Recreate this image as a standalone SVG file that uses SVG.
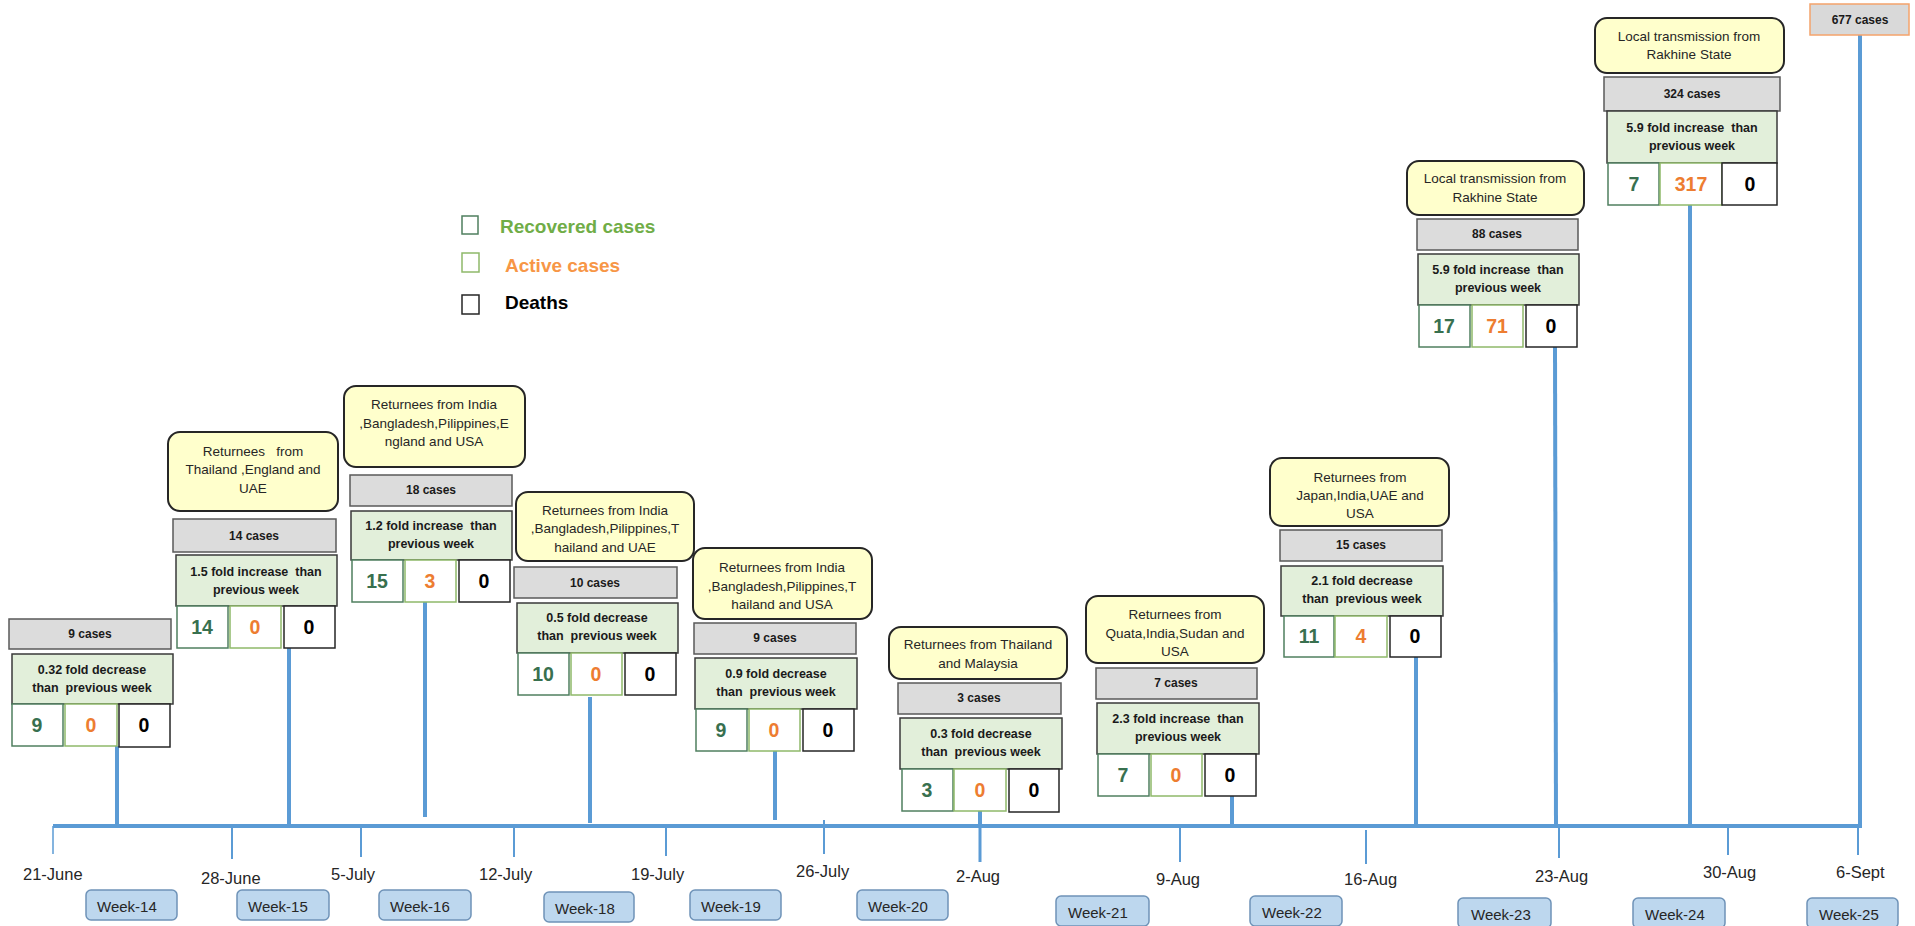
<svg xmlns="http://www.w3.org/2000/svg" width="1915" height="926" viewBox="0 0 1915 926" xml:space="preserve">
<style>
text{font-family:"Liberation Sans",Arial,sans-serif;white-space:pre}
.y{fill:#ffffcc;stroke:#262626;stroke-width:2}
.g{fill:#dcdcdc;stroke:#5a5a5a;stroke-width:1.5}
.gr{fill:#e2efda;stroke:#3a3a3a;stroke-width:1.5}
.cr{fill:#fff;stroke:#4f7f5f;stroke-width:1.5}
.ca{fill:#fff;stroke:#8fb96a;stroke-width:1.5}
.cd{fill:#fff;stroke:#262626;stroke-width:1.5}
.wk{fill:#bdd7ee;stroke:#6f93b8;stroke-width:1.5}
.ty{font-size:13.5px;fill:#262626;text-anchor:middle}
.tg{font-size:12px;font-weight:bold;fill:#1a1a1a;text-anchor:middle}
.tgr{font-size:12.5px;font-weight:bold;fill:#1a1a1a;text-anchor:middle}
.n{font-size:19.5px;font-weight:bold;text-anchor:middle}
.nr{fill:#38704f}.na{fill:#ed7d31}.nd{fill:#000}
.dt{font-size:16.5px;fill:#262626}
.wt{font-size:15px;fill:#262626}
.lg{font-size:19px;font-weight:bold}
.stem{stroke:#5b9bd5;stroke-width:4;fill:none}
.tick{stroke:#5b9bd5;stroke-width:2;fill:none}
</style>

<g id="connectors">
<line class="stem" x1="53" y1="826" x2="1862" y2="826"/>
<line class="stem" x1="117" y1="746" x2="117" y2="826"/>
<line class="stem" x1="289" y1="648" x2="289" y2="826"/>
<line class="stem" x1="425" y1="602" x2="425" y2="817"/>
<line class="stem" x1="590" y1="697" x2="590" y2="823"/>
<line class="stem" x1="775" y1="751" x2="775" y2="820"/>
<line class="stem" x1="980" y1="811" x2="980" y2="826"/>
<line class="stem" x1="1232" y1="796" x2="1232" y2="826"/>
<line class="stem" x1="1416" y1="657" x2="1416" y2="826"/>
<line class="stem" x1="1555" y1="347" x2="1556" y2="826"/>
<line class="stem" x1="1690" y1="205" x2="1690" y2="826"/>
<line class="stem" x1="1860" y1="35" x2="1860" y2="826"/>
<line class="tick" x1="53" y1="826" x2="53" y2="854" style="stroke-width:1.5"/>
<line class="tick" x1="232" y1="826" x2="232" y2="859"/>
<line class="tick" x1="361" y1="826" x2="361" y2="857"/>
<line class="tick" x1="514" y1="826" x2="514" y2="857"/>
<line class="tick" x1="666" y1="826" x2="666" y2="856"/>
<line class="tick" x1="824" y1="820" x2="824" y2="854"/>
<line class="tick" x1="980" y1="826" x2="980" y2="862" style="stroke-width:3"/>
<line class="tick" x1="1180" y1="828" x2="1180" y2="862"/>
<line class="tick" x1="1366" y1="830" x2="1366" y2="864"/>
<line class="tick" x1="1559" y1="826" x2="1559" y2="858"/>
<line class="tick" x1="1728" y1="826" x2="1728" y2="855"/>
<line class="tick" x1="1858" y1="826" x2="1858" y2="855"/>
</g>

<g id="legend">
<rect x="462" y="216" width="16" height="18" fill="#fff" stroke="#4f7f5f" stroke-width="1.5"/>
<rect x="462" y="253" width="17" height="19" fill="#fff" stroke="#8fb96a" stroke-width="1.5"/>
<rect x="462" y="295" width="17" height="19" fill="#fff" stroke="#262626" stroke-width="1.5"/>
<text class="lg" x="500" y="233" fill="#70ad47">Recovered cases</text>
<text class="lg" x="505" y="272" fill="#f79646">Active cases</text>
<text class="lg" x="505" y="309" fill="#000">Deaths</text>
</g>

<g id="week14">
<rect class="g" x="9" y="619" width="162" height="30"/>
<text class="tg" x="90" y="638">9 cases</text>
<rect class="gr" x="12" y="654" width="161" height="50"/>
<text class="tgr" x="92" y="674">0.32 fold decrease</text>
<text class="tgr" x="92" y="692">than  previous week</text>
<rect class="cr" x="12" y="704" width="51" height="42"/>
<rect class="ca" x="65" y="704" width="52" height="42"/>
<rect class="cd" x="119" y="704" width="51" height="43"/>
<text class="n nr" x="37" y="732">9</text>
<text class="n na" x="91" y="732">0</text>
<text class="n nd" x="144" y="732">0</text>
</g>

<g id="week15">
<rect class="y" x="168" y="432" width="170" height="79" rx="12"/>
<text class="ty" x="253" y="456">Returnees   from</text>
<text class="ty" x="253" y="474">Thailand ,England and</text>
<text class="ty" x="253" y="493">UAE</text>
<rect class="g" x="173" y="519" width="163" height="33"/>
<text class="tg" x="254" y="540">14 cases</text>
<rect class="gr" x="176" y="555" width="161" height="51"/>
<text class="tgr" x="256" y="576">1.5 fold increase  than</text>
<text class="tgr" x="256" y="594">previous week</text>
<rect class="cr" x="177" y="606" width="51" height="42"/>
<rect class="ca" x="230" y="606" width="51" height="42"/>
<rect class="cd" x="284" y="606" width="51" height="42"/>
<text class="n nr" x="202" y="634">14</text>
<text class="n na" x="255" y="634">0</text>
<text class="n nd" x="309" y="634">0</text>
</g>

<g id="week16">
<rect class="y" x="344" y="386" width="181" height="81" rx="12"/>
<text class="ty" x="434" y="409">Returnees from India</text>
<text class="ty" x="434" y="428">,Bangladesh,Pilippines,E</text>
<text class="ty" x="434" y="446">ngland and USA</text>
<rect class="g" x="350" y="475" width="162" height="31"/>
<text class="tg" x="431" y="494">18 cases</text>
<rect class="gr" x="351" y="511" width="161" height="49"/>
<text class="tgr" x="431" y="530">1.2 fold increase  than</text>
<text class="tgr" x="431" y="548">previous week</text>
<rect class="cr" x="352" y="560" width="51" height="42"/>
<rect class="ca" x="405" y="560" width="51" height="42"/>
<rect class="cd" x="459" y="560" width="51" height="42"/>
<text class="n nr" x="377" y="588">15</text>
<text class="n na" x="430" y="588">3</text>
<text class="n nd" x="484" y="588">0</text>
</g>

<g id="week18">
<rect class="y" x="516" y="492" width="178" height="69" rx="12"/>
<text class="ty" x="605" y="515">Returnees from India</text>
<text class="ty" x="605" y="533">,Bangladesh,Pilippines,T</text>
<text class="ty" x="605" y="552">hailand and UAE</text>
<rect class="g" x="514" y="567" width="163" height="31"/>
<text class="tg" x="595" y="587">10 cases</text>
<rect class="gr" x="517" y="603" width="161" height="50"/>
<text class="tgr" x="597" y="622">0.5 fold decrease</text>
<text class="tgr" x="597" y="640">than  previous week</text>
<rect class="cr" x="518" y="653" width="51" height="42"/>
<rect class="ca" x="571" y="653" width="51" height="42"/>
<rect class="cd" x="625" y="653" width="51" height="42"/>
<text class="n nr" x="543" y="681">10</text>
<text class="n na" x="596" y="681">0</text>
<text class="n nd" x="650" y="681">0</text>
</g>

<g id="week19">
<rect class="y" x="693" y="548" width="179" height="71" rx="12"/>
<text class="ty" x="782" y="572">Returnees from India</text>
<text class="ty" x="782" y="591">,Bangladesh,Pilippines,T</text>
<text class="ty" x="782" y="609">hailand and USA</text>
<rect class="g" x="694" y="623" width="162" height="31"/>
<text class="tg" x="775" y="642">9 cases</text>
<rect class="gr" x="695" y="658" width="162" height="51"/>
<text class="tgr" x="776" y="678">0.9 fold decrease</text>
<text class="tgr" x="776" y="696">than  previous week</text>
<rect class="cr" x="696" y="709" width="51" height="42"/>
<rect class="ca" x="749" y="709" width="51" height="42"/>
<rect class="cd" x="803" y="709" width="51" height="42"/>
<text class="n nr" x="721" y="737">9</text>
<text class="n na" x="774" y="737">0</text>
<text class="n nd" x="828" y="737">0</text>
</g>

<g id="week20">
<rect class="y" x="889" y="627" width="178" height="52" rx="12"/>
<text class="ty" x="978" y="649">Returnees from Thailand</text>
<text class="ty" x="978" y="668">and Malaysia</text>
<rect class="g" x="898" y="683" width="163" height="31"/>
<text class="tg" x="979" y="702">3 cases</text>
<rect class="gr" x="900" y="718" width="162" height="51"/>
<text class="tgr" x="981" y="738">0.3 fold decrease</text>
<text class="tgr" x="981" y="756">than  previous week</text>
<rect class="cr" x="902" y="769" width="51" height="42"/>
<rect class="ca" x="954" y="769" width="52" height="42"/>
<rect class="cd" x="1009" y="769" width="50" height="43"/>
<text class="n nr" x="927" y="797">3</text>
<text class="n na" x="980" y="797">0</text>
<text class="n nd" x="1034" y="797">0</text>
</g>

<g id="week21">
<rect class="y" x="1086" y="596" width="178" height="67" rx="12"/>
<text class="ty" x="1175" y="619">Returnees from</text>
<text class="ty" x="1175" y="638">Quata,India,Sudan and</text>
<text class="ty" x="1175" y="656">USA</text>
<rect class="g" x="1096" y="668" width="161" height="31"/>
<text class="tg" x="1176" y="687">7 cases</text>
<rect class="gr" x="1097" y="703" width="162" height="51"/>
<text class="tgr" x="1178" y="723">2.3 fold increase  than</text>
<text class="tgr" x="1178" y="741">previous week</text>
<rect class="cr" x="1098" y="754" width="51" height="42"/>
<rect class="ca" x="1151" y="754" width="51" height="42"/>
<rect class="cd" x="1205" y="754" width="51" height="42"/>
<text class="n nr" x="1123" y="782">7</text>
<text class="n na" x="1176" y="782">0</text>
<text class="n nd" x="1230" y="782">0</text>
</g>

<g id="week22">
<rect class="y" x="1270" y="458" width="179" height="68" rx="12"/>
<text class="ty" x="1360" y="482">Returnees from</text>
<text class="ty" x="1360" y="500">Japan,India,UAE and</text>
<text class="ty" x="1360" y="518">USA</text>
<rect class="g" x="1280" y="530" width="162" height="31"/>
<text class="tg" x="1361" y="549">15 cases</text>
<rect class="gr" x="1281" y="566" width="162" height="50"/>
<text class="tgr" x="1362" y="585">2.1 fold decrease</text>
<text class="tgr" x="1362" y="603">than  previous week</text>
<rect class="cr" x="1284" y="616" width="50" height="41"/>
<rect class="ca" x="1335" y="616" width="52" height="41"/>
<rect class="cd" x="1390" y="616" width="51" height="41"/>
<text class="n nr" x="1309" y="643">11</text>
<text class="n na" x="1361" y="643">4</text>
<text class="n nd" x="1415" y="643">0</text>
</g>

<g id="week23">
<rect class="y" x="1407" y="161" width="177" height="54" rx="12"/>
<text class="ty" x="1495" y="183">Local transmission from</text>
<text class="ty" x="1495" y="202">Rakhine State</text>
<rect class="g" x="1417" y="219" width="161" height="31"/>
<text class="tg" x="1497" y="238">88 cases</text>
<rect class="gr" x="1418" y="254" width="161" height="51"/>
<text class="tgr" x="1498" y="274">5.9 fold increase  than</text>
<text class="tgr" x="1498" y="292">previous week</text>
<rect class="cr" x="1419" y="305" width="51" height="42"/>
<rect class="ca" x="1472" y="305" width="51" height="42"/>
<rect class="cd" x="1526" y="305" width="51" height="42"/>
<text class="n nr" x="1444" y="333">17</text>
<text class="n na" x="1497" y="333">71</text>
<text class="n nd" x="1551" y="333">0</text>
</g>

<g id="week24">
<rect class="y" x="1595" y="18" width="189" height="55" rx="12"/>
<text class="ty" x="1689" y="41">Local transmission from</text>
<text class="ty" x="1689" y="59">Rakhine State</text>
<rect class="g" x="1604" y="77" width="176" height="34"/>
<text class="tg" x="1692" y="98">324 cases</text>
<rect class="gr" x="1607" y="111" width="170" height="52"/>
<text class="tgr" x="1692" y="132">5.9 fold increase  than</text>
<text class="tgr" x="1692" y="150">previous week</text>
<rect class="cr" x="1608" y="163" width="51" height="42"/>
<rect class="ca" x="1660" y="163" width="62" height="42"/>
<rect class="cd" x="1722" y="163" width="55" height="42"/>
<text class="n nr" x="1634" y="191">7</text>
<text class="n na" x="1691" y="191">317</text>
<text class="n nd" x="1750" y="191">0</text>
</g>

<g id="week25">
<rect x="1810" y="4" width="99" height="31" fill="#d9d9d9" stroke="#f4a36b" stroke-width="1.5"/>
<text class="tg" x="1860" y="24">677 cases</text>
</g>

<g id="dates">
<text class="dt" x="23" y="880">21-June</text>
<text class="dt" x="201" y="884">28-June</text>
<text class="dt" x="331" y="880">5-July</text>
<text class="dt" x="479" y="880">12-July</text>
<text class="dt" x="631" y="880">19-July</text>
<text class="dt" x="796" y="877">26-July</text>
<text class="dt" x="956" y="882">2-Aug</text>
<text class="dt" x="1156" y="885">9-Aug</text>
<text class="dt" x="1344" y="885">16-Aug</text>
<text class="dt" x="1535" y="882">23-Aug</text>
<text class="dt" x="1703" y="878">30-Aug</text>
<text class="dt" x="1836" y="878">6-Sept</text>
</g>

<g id="weeks">
<rect class="wk" x="86" y="890" width="91" height="30" rx="5"/>
<text class="wt" x="97" y="912">Week-14</text>
<rect class="wk" x="237" y="890" width="92" height="30" rx="5"/>
<text class="wt" x="248" y="912">Week-15</text>
<rect class="wk" x="379" y="890" width="92" height="30" rx="5"/>
<text class="wt" x="390" y="912">Week-16</text>
<rect class="wk" x="544" y="892" width="90" height="30" rx="5"/>
<text class="wt" x="555" y="914">Week-18</text>
<rect class="wk" x="690" y="890" width="91" height="30" rx="5"/>
<text class="wt" x="701" y="912">Week-19</text>
<rect class="wk" x="857" y="890" width="91" height="30" rx="5"/>
<text class="wt" x="868" y="912">Week-20</text>
<rect class="wk" x="1056" y="896" width="93" height="30" rx="5"/>
<text class="wt" x="1068" y="918">Week-21</text>
<rect class="wk" x="1250" y="896" width="92" height="30" rx="5"/>
<text class="wt" x="1262" y="918">Week-22</text>
<rect class="wk" x="1458" y="898" width="93" height="30" rx="5"/>
<text class="wt" x="1471" y="920">Week-23</text>
<rect class="wk" x="1633" y="898" width="92" height="30" rx="5"/>
<text class="wt" x="1645" y="920">Week-24</text>
<rect class="wk" x="1807" y="898" width="91" height="30" rx="5"/>
<text class="wt" x="1819" y="920">Week-25</text>
</g>
</svg>
